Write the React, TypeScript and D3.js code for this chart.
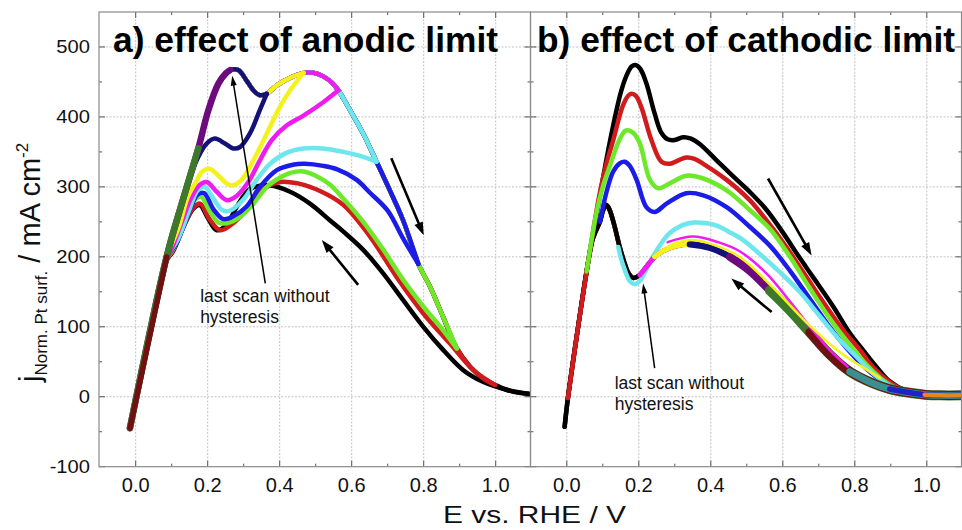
import React from 'react';
import * as d3 from 'd3';

type P = [number, number];

// ---------- axes ----------
const xTicks = [0, 0.2, 0.4, 0.6, 0.8, 1.0];
const xTickLabels = ['0.0', '0.2', '0.4', '0.6', '0.8', '1.0'];
const xMinorTicks = [0.1, 0.3, 0.5, 0.7, 0.9];
const yTicks = [-100, 0, 100, 200, 300, 400, 500];
const yMinorTicks = [-50, 50, 150, 250, 350, 450];
const yGrid = [0, 100, 200, 300, 400, 500];

// ---------- panel a: effect of anodic limit ----------
const forwardA: P[] = [
  [-0.016, -45], [0.086, 200], [0.128, 276], [0.174, 355], [0.202, 410], [0.23, 448], [0.25, 462],
  [0.262, 467], [0.285, 467], [0.308, 452], [0.327, 438], [0.345, 431], [0.364, 433], [0.392, 445],
  [0.429, 456], [0.466, 463], [0.495, 463], [0.521, 458], [0.545, 449], [0.563, 438], [0.595, 410],
  [0.632, 376], [0.669, 336], [0.706, 295], [0.743, 252], [0.785, 190], [0.818, 157], [0.854, 114],
  [0.892, 69], [0.929, 43], [0.966, 26], [0.998, 17], [1.03, 10], [1.06, 6], [1.095, 4],
];
const backA_black: P[] = [
  [1.095, 4], [1.03, 10], [0.966, 21], [0.91, 38], [0.854, 67], [0.799, 100], [0.743, 138], [0.688, 176],
  [0.632, 210], [0.577, 236], [0.54, 252], [0.484, 276], [0.429, 293], [0.373, 302], [0.318, 297],
  [0.28, 271], [0.253, 246], [0.225, 238], [0.2, 256], [0.178, 274], [0.16, 269], [0.132, 242],
  [0.104, 208], [0.086, 195], [0.06, 138],
];
const backA_red: P[] = [
  [0.998, 17], [0.938, 38], [0.873, 76], [0.799, 119], [0.725, 171], [0.651, 229], [0.577, 274],
  [0.512, 294], [0.45, 305], [0.4, 307], [0.345, 293], [0.308, 268], [0.271, 248], [0.235, 238],
  [0.205, 254], [0.179, 276], [0.16, 270], [0.132, 243], [0.104, 209], [0.086, 195], [0.06, 138],
];
const backA_green: P[] = [
  [0.892, 69], [0.854, 95], [0.799, 129], [0.743, 167], [0.688, 210], [0.632, 250], [0.577, 283],
  [0.54, 303], [0.5, 316], [0.466, 322], [0.43, 320], [0.4, 313], [0.364, 300], [0.327, 276],
  [0.29, 257], [0.253, 248], [0.23, 249], [0.205, 266], [0.181, 286], [0.162, 280], [0.135, 250],
  [0.106, 213], [0.086, 196], [0.06, 138],
];
const backA_blue: P[] = [
  [0.785, 190], [0.743, 226], [0.7, 266], [0.65, 292], [0.614, 310], [0.56, 325], [0.521, 330],
  [0.47, 333], [0.44, 332], [0.392, 324], [0.345, 300], [0.308, 272], [0.271, 258], [0.243, 254],
  [0.216, 268], [0.19, 291], [0.172, 289], [0.148, 264], [0.116, 222], [0.086, 197], [0.06, 138],
];
const backA_cyan: P[] = [
  [0.669, 336], [0.632, 343], [0.577, 350], [0.521, 355], [0.466, 355], [0.42, 349], [0.373, 333],
  [0.336, 310], [0.299, 282], [0.262, 266], [0.24, 267], [0.215, 284], [0.192, 300], [0.172, 295],
  [0.148, 266], [0.118, 226], [0.086, 198], [0.06, 138],
];
const backA_magenta: P[] = [
  [0.563, 438], [0.521, 421], [0.466, 402], [0.42, 388], [0.378, 367], [0.345, 338], [0.313, 307],
  [0.28, 287], [0.253, 281], [0.225, 293], [0.197, 307], [0.176, 302], [0.153, 283], [0.125, 246],
  [0.1, 212], [0.086, 199], [0.06, 138],
];
const backA_yellow: P[] = [
  [0.466, 463], [0.429, 438], [0.396, 410], [0.364, 376], [0.327, 338], [0.294, 310], [0.267, 302],
  [0.25, 306], [0.23, 316], [0.205, 326], [0.185, 322], [0.165, 305], [0.145, 286], [0.118, 240],
  [0.086, 200], [0.06, 138],
];
const backA_navy: P[] = [
  [0.364, 433], [0.345, 410], [0.317, 376], [0.29, 357], [0.271, 355], [0.248, 362], [0.22, 369],
  [0.197, 362], [0.179, 348], [0.165, 333], [0.14, 295], [0.12, 262],
];
// scans, drawn in this order; each runs forwardA up to its anodic limit, then its own return
const scansA = [
  { key: 'black', limit: 1.095, back: backA_black },
  { key: 'red', limit: 0.998, back: backA_red },
  { key: 'green', limit: 0.892, back: backA_green },
  { key: 'blue', limit: 0.785, back: backA_blue },
  { key: 'cyan', limit: 0.669, back: backA_cyan },
  { key: 'magenta', limit: 0.563, back: backA_magenta },
  { key: 'yellow', limit: 0.466, back: backA_yellow },
  { key: 'navy', limit: 0.364, back: backA_navy },
  { key: 'purple', limit: 0.262, back: null },
  { key: 'dkgreen', limit: 0.174, back: null },
  { key: 'maroon', limit: 0.086, back: null },
];

// ---------- panel b: effect of cathodic limit ----------
const cathodicB: P[] = [
  [1.1, 2], [1.036, 2], [0.994, 3], [0.962, 5], [0.897, 11], [0.851, 19], [0.786, 36], [0.731, 60],
  [0.675, 92], [0.619, 124], [0.564, 152], [0.508, 180], [0.453, 200], [0.397, 213], [0.342, 218],
  [0.3, 215], [0.27, 209], [0.244, 200], [0.22, 185], [0.203, 174], [0.184, 170], [0.17, 178],
  [0.161, 190], [0.147, 214], [0.133, 243], [0.119, 267], [0.11, 274], [0.101, 267], [0.092, 250],
  [0.08, 236], [0.07, 222], [0.055, 179], [0.03, 95], [0.003, -2], [-0.006, -43],
];
const fwdB_black: P[] = [
  [-0.006, -43], [0.003, -2], [0.03, 95], [0.055, 180], [0.075, 236], [0.101, 314], [0.129, 388],
  [0.15, 435], [0.165, 458], [0.18, 472], [0.192, 474], [0.205, 468], [0.221, 448], [0.244, 405],
  [0.262, 378], [0.28, 368], [0.3, 367], [0.323, 371], [0.345, 369], [0.37, 361], [0.416, 338],
  [0.46, 316], [0.51, 292], [0.555, 267], [0.6, 235], [0.645, 200], [0.684, 171], [0.74, 129],
  [0.786, 91], [0.824, 66], [0.86, 43], [0.897, 22], [0.944, 8], [1.0, 3], [1.05, 2], [1.1, 2],
];
const fwdB_red: P[] = [
  [0.003, -2], [0.03, 95], [0.055, 179], [0.075, 243], [0.092, 292], [0.11, 333], [0.129, 367],
  [0.155, 415], [0.17, 430], [0.18, 433], [0.192, 430], [0.207, 414], [0.235, 367], [0.263, 336],
  [0.286, 333], [0.31, 338], [0.332, 342], [0.355, 340], [0.379, 333], [0.444, 310], [0.508, 281],
  [0.555, 252], [0.61, 214], [0.666, 171], [0.721, 129], [0.768, 95], [0.814, 67], [0.851, 42],
  [0.897, 21], [0.944, 8], [1.0, 3], [1.05, 2], [1.1, 2],
];
const fwdB_green: P[] = [
  [0.055, 179], [0.082, 262], [0.1, 300], [0.119, 329], [0.145, 366], [0.162, 380], [0.17, 381],
  [0.185, 377], [0.203, 362], [0.231, 310], [0.254, 298], [0.286, 305], [0.332, 316], [0.379, 312],
  [0.444, 295], [0.508, 267], [0.564, 240], [0.62, 200], [0.675, 155], [0.73, 112], [0.78, 78],
  [0.83, 47], [0.88, 23], [0.93, 9], [1.0, 3], [1.05, 2], [1.1, 2],
];
const fwdB_blue: P[] = [
  [0.092, 250], [0.11, 292], [0.129, 322], [0.148, 334], [0.161, 336], [0.175, 330], [0.194, 310],
  [0.221, 271], [0.244, 264], [0.277, 276], [0.332, 291], [0.379, 288], [0.444, 271], [0.508, 243],
  [0.564, 216], [0.62, 180], [0.675, 140], [0.73, 100], [0.78, 68], [0.83, 41], [0.88, 21],
  [0.93, 9], [1.0, 3], [1.05, 2], [1.1, 2],
];
const fwdB_cyan: P[] = [
  [0.143, 214], [0.151, 197], [0.162, 180], [0.174, 166], [0.187, 161], [0.2, 164], [0.215, 176],
  [0.24, 201], [0.262, 219], [0.286, 234], [0.32, 245], [0.351, 249], [0.39, 248], [0.42, 244],
  [0.45, 236], [0.49, 224], [0.536, 204], [0.592, 178], [0.647, 150], [0.703, 115], [0.758, 81],
  [0.805, 57], [0.851, 33], [0.9, 15], [0.95, 7], [1.0, 3],
];
const fwdB_magenta: P[] = [
  [0.28, 221], [0.351, 229], [0.42, 221], [0.48, 208], [0.555, 176], [0.62, 136], [0.68, 97],
  [0.73, 67], [0.78, 43],
];
const fwdB_yellow: P[] = [
  [0.26, 208], [0.3, 219], [0.351, 224], [0.42, 215], [0.48, 200], [0.573, 156], [0.666, 106],
  [0.758, 64], [0.823, 42], [0.87, 27],
];
const scansB = [
  { key: 'black', limit: -0.006, fwd: fwdB_black },
  { key: 'red', limit: 0.003, fwd: fwdB_red },
  { key: 'green', limit: 0.055, fwd: fwdB_green },
  { key: 'blue', limit: 0.092, fwd: fwdB_blue },
  { key: 'cyan', limit: 0.22, fwd: fwdB_cyan },
  { key: 'magenta', limit: 0.203, fwd: fwdB_magenta },
  { key: 'yellow', limit: 0.244, fwd: fwdB_yellow },
  { key: 'navy', limit: 0.342, fwd: null },
  { key: 'purple', limit: 0.453, fwd: null },
  { key: 'dkgreen', limit: 0.564, fwd: null },
  { key: 'maroon', limit: 0.675, fwd: null },
  { key: 'teal', limit: 0.786, fwd: null },
  { key: 'royal', limit: 0.897, fwd: null },
  { key: 'orange', limit: 0.994, fwd: null },
];

// annotations (data units)
const arrowsA = [
  { from: [0.36, 162] as P, to: [0.268, 459] as P, thick: false },
  { from: [0.71, 341] as P, to: [0.8, 231] as P, thick: true },
  { from: [0.618, 160] as P, to: [0.517, 224] as P, thick: true },
];
const arrowsB = [
  { from: [0.244, 41] as P, to: [0.212, 162] as P, thick: false },
  { from: [0.559, 312] as P, to: [0.68, 202] as P, thick: true },
  { from: [0.569, 121] as P, to: [0.457, 169] as P, thick: true },
];
const noteLines = ['last scan without', 'hysteresis'];
const noteA: P = [0.179, 135];
const noteB: P = [0.133, 11];

// ---------- styles ----------
const COLORS: Record<string, string> = {
  black: '#000000', red: '#d01c1c', green: '#6ee82a', blue: '#1c1ce8', cyan: '#6ee6ee',
  magenta: '#ee1cee', yellow: '#f4f21c', navy: '#12127a', purple: '#6c0c7c', dkgreen: '#3c7a2a',
  maroon: '#701010', teal: '#3a9090', royal: '#2222c4', orange: '#e8841c',
};
const WIDTH_A: Record<string, number> = {
  black: 4.5, red: 4.5, green: 4.5, blue: 4.5, cyan: 4.5, magenta: 4.5, yellow: 4.5, navy: 4.5,
  purple: 6.5, dkgreen: 6.5, maroon: 5.5,
};
const WIDTH_B: Record<string, number> = {
  black: 4.5, red: 4.5, green: 4.5, blue: 4.5, cyan: 4.5, magenta: 5, yellow: 5, navy: 6.5,
  purple: 8, dkgreen: 10, maroon: 9, teal: 7, royal: 5.5, orange: 4.5,
};
const FONT = 'Liberation Sans, Arial, Helvetica, sans-serif';
const W = 962, H = 530;
const TOP = 12, BOTTOM = 466.7;

const yS = d3.scaleLinear().domain([-100, 550]).range([BOTTOM, TOP]);
const xA = d3.scaleLinear().domain([-0.1, 1.1]).range([99.7, 531.7]);
const xB = d3.scaleLinear().domain([-0.1, 1.1]).range([530.8, 962.8]);
const frameA = { x0: 99, x1: 530.5 };
const frameB = { x0: 530.5, x1: 961.5 };

function mkLine(x: d3.ScaleLinear<number, number>) {
  return d3.line<P>().x((d) => x(d[0])).y((d) => yS(d[1])).curve(d3.curveCatmullRom.alpha(0.5));
}

function Arrow({ x, a }: { x: d3.ScaleLinear<number, number>; a: { from: P; to: P; thick: boolean } }) {
  const x0 = x(a.from[0]), y0 = yS(a.from[1]);
  const x1 = x(a.to[0]), y1 = yS(a.to[1]);
  const dx = x1 - x0, dy = y1 - y0;
  const len = Math.hypot(dx, dy);
  const ux = dx / len, uy = dy / len;
  const hl = a.thick ? 13 : 10, hw = a.thick ? 9 : 6;
  const bx = x1 - ux * hl, by = y1 - uy * hl;
  const nx = -uy, ny = ux;
  const pts = `${x1},${y1} ${bx + nx * hw / 2},${by + ny * hw / 2} ${bx - nx * hw / 2},${by - ny * hw / 2}`;
  return (
    <g>
      <line x1={x0} y1={y0} x2={bx + ux * 2} y2={by + uy * 2} stroke="#000" strokeWidth={a.thick ? 2.6 : 1.5} />
      <polygon points={pts} fill="#000" />
    </g>
  );
}

function Frame({ x, f, id }: { x: d3.ScaleLinear<number, number>; f: { x0: number; x1: number }; id: string }) {
  const tickCol = '#555';
  return (
    <g>
      {xTicks.map((t) => (
        <line key={'gx' + t} x1={x(t)} x2={x(t)} y1={TOP} y2={BOTTOM} stroke="#c4c4c4" strokeWidth={1} strokeDasharray="2,1.5" />
      ))}
      {yGrid.map((t) => (
        <line key={'gy' + t} x1={f.x0} x2={f.x1} y1={yS(t)} y2={yS(t)} stroke="#c4c4c4" strokeWidth={1} strokeDasharray="2,1.5" />
      ))}
      {xTicks.map((t) => (
        <g key={'tx' + t}>
          <line x1={x(t)} x2={x(t)} y1={BOTTOM} y2={BOTTOM - 6} stroke={tickCol} />
          <line x1={x(t)} x2={x(t)} y1={TOP} y2={TOP + 6} stroke={tickCol} />
        </g>
      ))}
      {xMinorTicks.map((t) => (
        <g key={'mx' + t}>
          <line x1={x(t)} x2={x(t)} y1={BOTTOM} y2={BOTTOM - 3} stroke={tickCol} />
          <line x1={x(t)} x2={x(t)} y1={TOP} y2={TOP + 3} stroke={tickCol} />
        </g>
      ))}
      {yTicks.map((t) => (
        <g key={'ty' + t}>
          <line x1={f.x0} x2={f.x0 + 6} y1={yS(t)} y2={yS(t)} stroke={tickCol} />
          <line x1={f.x1} x2={f.x1 - 6} y1={yS(t)} y2={yS(t)} stroke={tickCol} />
        </g>
      ))}
      {yMinorTicks.map((t) => (
        <g key={'my' + t}>
          <line x1={f.x0} x2={f.x0 + 3} y1={yS(t)} y2={yS(t)} stroke={tickCol} />
          <line x1={f.x1} x2={f.x1 - 3} y1={yS(t)} y2={yS(t)} stroke={tickCol} />
        </g>
      ))}
      <clipPath id={id}>
        <rect x={f.x0} y={TOP} width={f.x1 - f.x0} height={BOTTOM - TOP} />
      </clipPath>
    </g>
  );
}

export default function App() {
  const lA = mkLine(xA);
  const lB = mkLine(xB);
  const common = { fill: 'none', strokeLinejoin: 'round' as const, strokeLinecap: 'round' as const };

  const upperB = scansB.slice(0, 4);
  const restB = scansB.slice(4);
  const cathodic = (limit: number) => cathodicB.filter((p) => p[0] >= limit - 1e-9);

  return (
    <svg width={W} height={H} style={{ position: 'absolute', left: 0, top: 0, background: '#fff' }} fontFamily={FONT}>
      <rect x={0} y={0} width={W} height={H} fill="#fff" />
      <Frame x={xA} f={frameA} id="clipA" />
      <Frame x={xB} f={frameB} id="clipB" />

      {/* panel a curves */}
      <g clipPath="url(#clipA)">
        {scansA.map((s) => {
          const fwd = forwardA.filter((p) => p[0] <= s.limit + 1e-9);
          return (
            <g key={s.key} stroke={COLORS[s.key]} strokeWidth={WIDTH_A[s.key]} {...common}>
              <path d={lA(fwd) || ''} />
              {s.back && <path d={lA(s.back) || ''} />}
            </g>
          );
        })}
      </g>

      {/* panel b curves */}
      <g clipPath="url(#clipB)">
        {upperB.slice().reverse().map((s) => (
          <path key={'c' + s.key} d={lB(cathodic(s.limit)) || ''} stroke={COLORS[s.key]} strokeWidth={WIDTH_B[s.key]} {...common} />
        ))}
        {upperB.map((s) => (
          <path key={'f' + s.key} d={lB(s.fwd) || ''} stroke={COLORS[s.key]} strokeWidth={WIDTH_B[s.key]} {...common} />
        ))}
        {restB.map((s) => (
          <g key={'r' + s.key} stroke={COLORS[s.key]} strokeWidth={WIDTH_B[s.key]} {...common}>
            <path d={lB(cathodic(s.limit)) || ''} />
            {s.key === 'cyan' && s.fwd && <path d={lB(s.fwd) || ''} />}
          </g>
        ))}
        {restB.filter((s) => s.fwd && s.key !== 'cyan').map((s) => (
          <path key={'t' + s.key} d={lB(s.fwd as P[]) || ''} stroke={COLORS[s.key]} strokeWidth={2.5} {...common} />
        ))}
      </g>

      {/* frames */}
      <rect x={frameA.x0} y={TOP} width={frameA.x1 - frameA.x0} height={BOTTOM - TOP} fill="none" stroke="#8a8a8a" strokeWidth={1.2} />
      <rect x={frameB.x0} y={TOP} width={frameB.x1 - frameB.x0} height={BOTTOM - TOP} fill="none" stroke="#8a8a8a" strokeWidth={1.2} />

      {/* annotations */}
      {arrowsA.map((a, i) => <Arrow key={'aa' + i} x={xA} a={a} />)}
      {arrowsB.map((a, i) => <Arrow key={'ab' + i} x={xB} a={a} />)}
      {noteLines.map((t, i) => (
        <text key={'na' + i} x={xA(noteA[0])} y={yS(noteA[1]) + i * 21} fontSize={17.5} fill="#111">{t}</text>
      ))}
      {noteLines.map((t, i) => (
        <text key={'nb' + i} x={xB(noteB[0])} y={yS(noteB[1]) + i * 21} fontSize={17.5} fill="#111">{t}</text>
      ))}

      {/* titles */}
      <text x={113} y={52} fontSize={35} fontWeight="bold" textLength={385} lengthAdjust="spacingAndGlyphs">a) effect of anodic limit</text>
      <text x={537} y={52} fontSize={35} fontWeight="bold" textLength={418} lengthAdjust="spacingAndGlyphs">b) effect of cathodic limit</text>

      {/* tick labels */}
      {yTicks.map((t) => (
        <text key={'yl' + t} transform={`translate(90,${yS(t)}) scale(1.12,1)`} textAnchor="end" dy="0.36em" fontSize={18} fill="#111">{t}</text>
      ))}
      {[xA, xB].map((x, k) =>
        xTicks.map((t, i) => (
          <text key={'xl' + k + i} x={x(t)} y={492} textAnchor="middle" fontSize={20} fill="#111">{xTickLabels[i]}</text>
        ))
      )}

      {/* axis titles */}
      <text x={534.5} y={523} textAnchor="middle" fontSize={24} textLength={183} lengthAdjust="spacingAndGlyphs" fill="#111">E vs. RHE / V</text>
      <text transform="translate(40,382) rotate(-90)" fill="#111">
        <tspan fontSize={29}>j</tspan>
        <tspan fontSize={17} dy={7}>Norm. Pt surf.</tspan>
        <tspan fontSize={29} dy={-7}> / mA cm</tspan>
        <tspan fontSize={17} dy={-12}>-2</tspan>
      </text>
    </svg>
  );
}
